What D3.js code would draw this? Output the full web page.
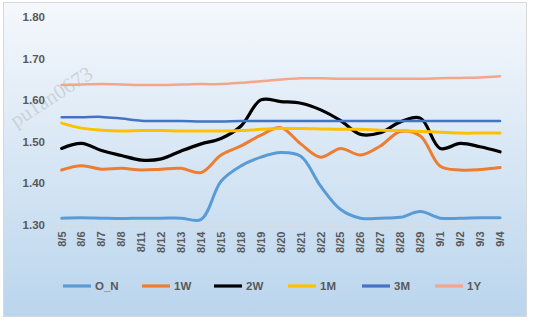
<!DOCTYPE html>
<html><head><meta charset="utf-8">
<script src="https://cdn.jsdelivr.net/npm/d3@7"></script>
<style>body{margin:0;background:#fff}svg{display:block}</style>
</head><body>
<svg id="c" width="533" height="323"></svg>
<script>
const categories = ["8/5","8/6","8/7","8/8","8/11","8/12","8/13","8/14","8/15","8/18","8/19","8/20","8/21","8/22","8/25","8/26","8/27","8/28","8/29","9/1","9/2","9/3","9/4"];
const seriesNames = ["O_N","1W","2W","1M","3M","1Y"];
const ON  = [1.316,1.317,1.316,1.315,1.316,1.316,1.316,1.313,1.405,1.442,1.463,1.474,1.465,1.393,1.337,1.316,1.316,1.318,1.332,1.316,1.316,1.317,1.317];
const W1  = [1.432,1.442,1.434,1.436,1.432,1.434,1.436,1.426,1.468,1.490,1.516,1.534,1.495,1.463,1.484,1.468,1.490,1.525,1.514,1.441,1.432,1.433,1.438];
const W2  = [1.484,1.496,1.479,1.467,1.456,1.459,1.478,1.495,1.508,1.538,1.601,1.597,1.593,1.577,1.551,1.518,1.522,1.548,1.557,1.484,1.496,1.488,1.476];
const M1  = [1.545,1.533,1.528,1.526,1.527,1.527,1.526,1.526,1.526,1.527,1.530,1.532,1.532,1.531,1.530,1.530,1.528,1.527,1.525,1.523,1.521,1.521,1.521];
const M3  = [1.559,1.559,1.560,1.556,1.551,1.550,1.550,1.549,1.549,1.550,1.550,1.550,1.550,1.550,1.550,1.550,1.550,1.550,1.550,1.550,1.550,1.550,1.550];
const Y1  = [1.637,1.638,1.639,1.638,1.637,1.637,1.638,1.639,1.639,1.642,1.646,1.650,1.653,1.653,1.652,1.652,1.652,1.652,1.652,1.653,1.654,1.655,1.658];
const yTicks = [1.30,1.40,1.50,1.60,1.70,1.80];
const colors = ["#5b9bd5","#ed7d31","#000000","#ffc000","#4472c4","#f4a58a"];
const widths = [3,3,3.2,3,2.5,2.5];
const allSeries = [ON,W1,W2,M1,M3,Y1];

const svg = d3.select("#c");
const defs = svg.append("defs");
const g = defs.append("linearGradient").attr("id","bg").attr("x1",0).attr("y1",0).attr("x2",0).attr("y2",1);
g.append("stop").attr("offset","0%").attr("stop-color","#f5f8fc");
g.append("stop").attr("offset","100%").attr("stop-color","#bad5ed");
svg.append("rect").attr("x",3.5).attr("y",2.5).attr("width",523).attr("height",314)
  .attr("fill","url(#bg)").attr("stroke","#d9d9d9").attr("stroke-width",1);

// watermark
svg.append("text").attr("transform","translate(16,128) rotate(-33)")
  .attr("font-family","Liberation Serif, serif").attr("font-size",21)
  .attr("fill","#c4c9cf").attr("fill-opacity",0.75).text("pu1an0673");

const x = d3.scaleBand().domain(categories).range([51.7,510]);
const y = d3.scaleLinear().domain([1.30,1.80]).range([224.8,17.3]);

// y axis labels
const ya = svg.append("g").attr("transform","translate(45,0)")
  .call(d3.axisLeft(y).tickValues(yTicks).tickFormat(d3.format(".2f")).tickSize(0));
ya.select(".domain").remove();
ya.selectAll("text").attr("font-family","Liberation Sans, Arial, sans-serif").attr("font-size",11.5)
  .attr("font-weight","bold").attr("fill","#595959").attr("x",0);

// x axis
const xa = svg.append("g").attr("transform","translate(0,225.5)")
  .call(d3.axisBottom(x).tickSize(0));
xa.select(".domain").attr("stroke","#d9d9d9").attr("stroke-width",1);
// tick marks at band boundaries
const bounds = categories.map(c=>x(c)).concat([x.range()[1]]);
xa.selectAll(".bt").data(bounds).enter().append("line").attr("class","bt")
  .attr("x1",d=>d).attr("x2",d=>d).attr("y1",0).attr("y2",5).attr("stroke","#d9d9d9");
xa.selectAll(".tick text")
  .attr("font-family","Liberation Sans, Arial, sans-serif").attr("font-size",11)
  .attr("font-weight","bold").attr("fill","#595959")
  .attr("text-anchor","end").attr("dy","0.35em")
  .attr("transform","translate(0,6) rotate(-90)").attr("x",0).attr("y",0);

// lines
const line = d3.line().x((d,i)=>x(categories[i])+x.bandwidth()/2).y(d=>y(d))
  .curve(d3.curveCatmullRom.alpha(0.5));
allSeries.forEach((s,k)=>{
  svg.append("path").datum(s).attr("d",line).attr("fill","none")
    .attr("stroke",colors[k]).attr("stroke-width",widths[k])
    .attr("stroke-linejoin","round").attr("stroke-linecap","round");
});

// legend
const legX = [63,142,214,288,362,435];
seriesNames.forEach((n,k)=>{
  const lg = svg.append("g").attr("transform",`translate(${legX[k]},286)`);
  lg.append("line").attr("x1",0).attr("x2",28).attr("y1",0).attr("y2",0)
    .attr("stroke",colors[k]).attr("stroke-width",3.2);
  lg.append("text").attr("x",32).attr("y",0).attr("dy","0.36em")
    .attr("font-family","Liberation Sans, Arial, sans-serif").attr("font-size",11.5)
    .attr("font-weight","bold").attr("fill","#595959").text(n);
});
</script>
</body></html>
